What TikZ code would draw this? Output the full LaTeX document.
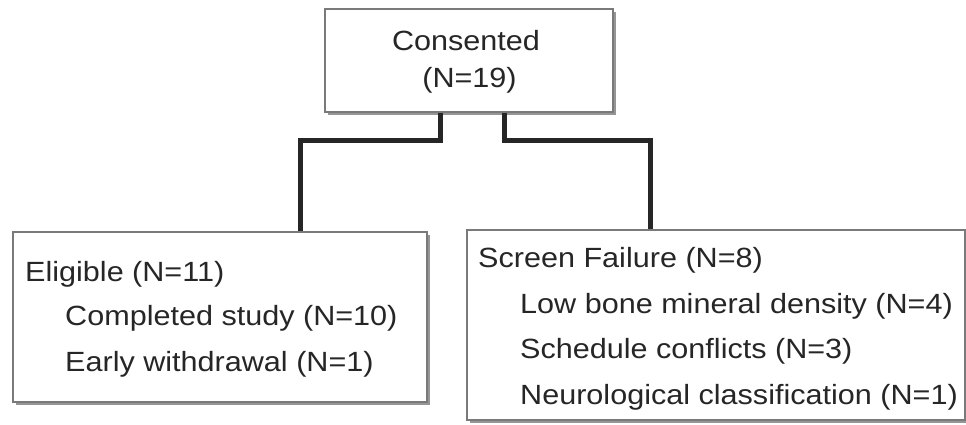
\documentclass[tikz,border=0pt]{standalone}
\usepackage{fontspec}
\setmainfont{Liberation Sans}[FakeStretch=1.1]
\usetikzlibrary{shadows}
\definecolor{txt}{HTML}{262626}
\definecolor{bord}{HTML}{7A7A7A}
\tikzset{
  box/.style={draw=bord, line width=1.3pt, fill=white, inner sep=0pt,
    drop shadow={shadow xshift=2.5pt, shadow yshift=-3pt, fill=black!55, opacity=0.75}},
  conn/.style={draw=txt, line width=5pt},
  lbl/.style={anchor=base west, inner sep=0pt, text=txt, font=\fontsize{27.8}{33}\selectfont},
  clbl/.style={anchor=base, inner sep=0pt, text=txt, font=\fontsize{27.8}{33}\selectfont}
}
\begin{document}
\begin{tikzpicture}[x=1pt,y=1pt]
\useasboundingbox (0,0) rectangle (966,424);
% boxes
\node[box, minimum width=288pt, minimum height=103pt] (top) at (469,363.5) {};
\node[box, minimum width=414pt, minimum height=170pt] (left) at (220,107) {};
\node[box, minimum width=498pt, minimum height=190pt] (right) at (716,99) {};
% connectors
\coordinate (l1) at (440,284);
\coordinate (l2) at (300,284);
\coordinate (r1) at (504,284);
\coordinate (r2) at (650,284);
\draw[conn] (top.south -| l1) -- (l1) -- (l2) -- (left.north -| l2);
\draw[conn] (top.south -| r1) -- (r1) -- (r2) -- (right.north -| r2);
% texts
\node[clbl] (t1) at (466,373) {Consented};
\node[clbl] (t2) at (469.5,337) {(N=19)};
\node[lbl] (e1) at (25,143) {Eligible (N=11)};
\node[lbl] (e2) at (65,99) {Completed study (N=10)};
\node[lbl] (e3) at (65,53) {Early withdrawal (N=1)};
\node[lbl] (s1) at (478,157) {Screen Failure (N=8)};
\node[lbl] (s2) at (520,111) {Low bone mineral density (N=4)};
\node[lbl] (s3) at (520,66) {Schedule conflicts (N=3)};
\node[lbl] (s4) at (520,20) {Neurological classification (N=1)};
\end{tikzpicture}
\end{document}
